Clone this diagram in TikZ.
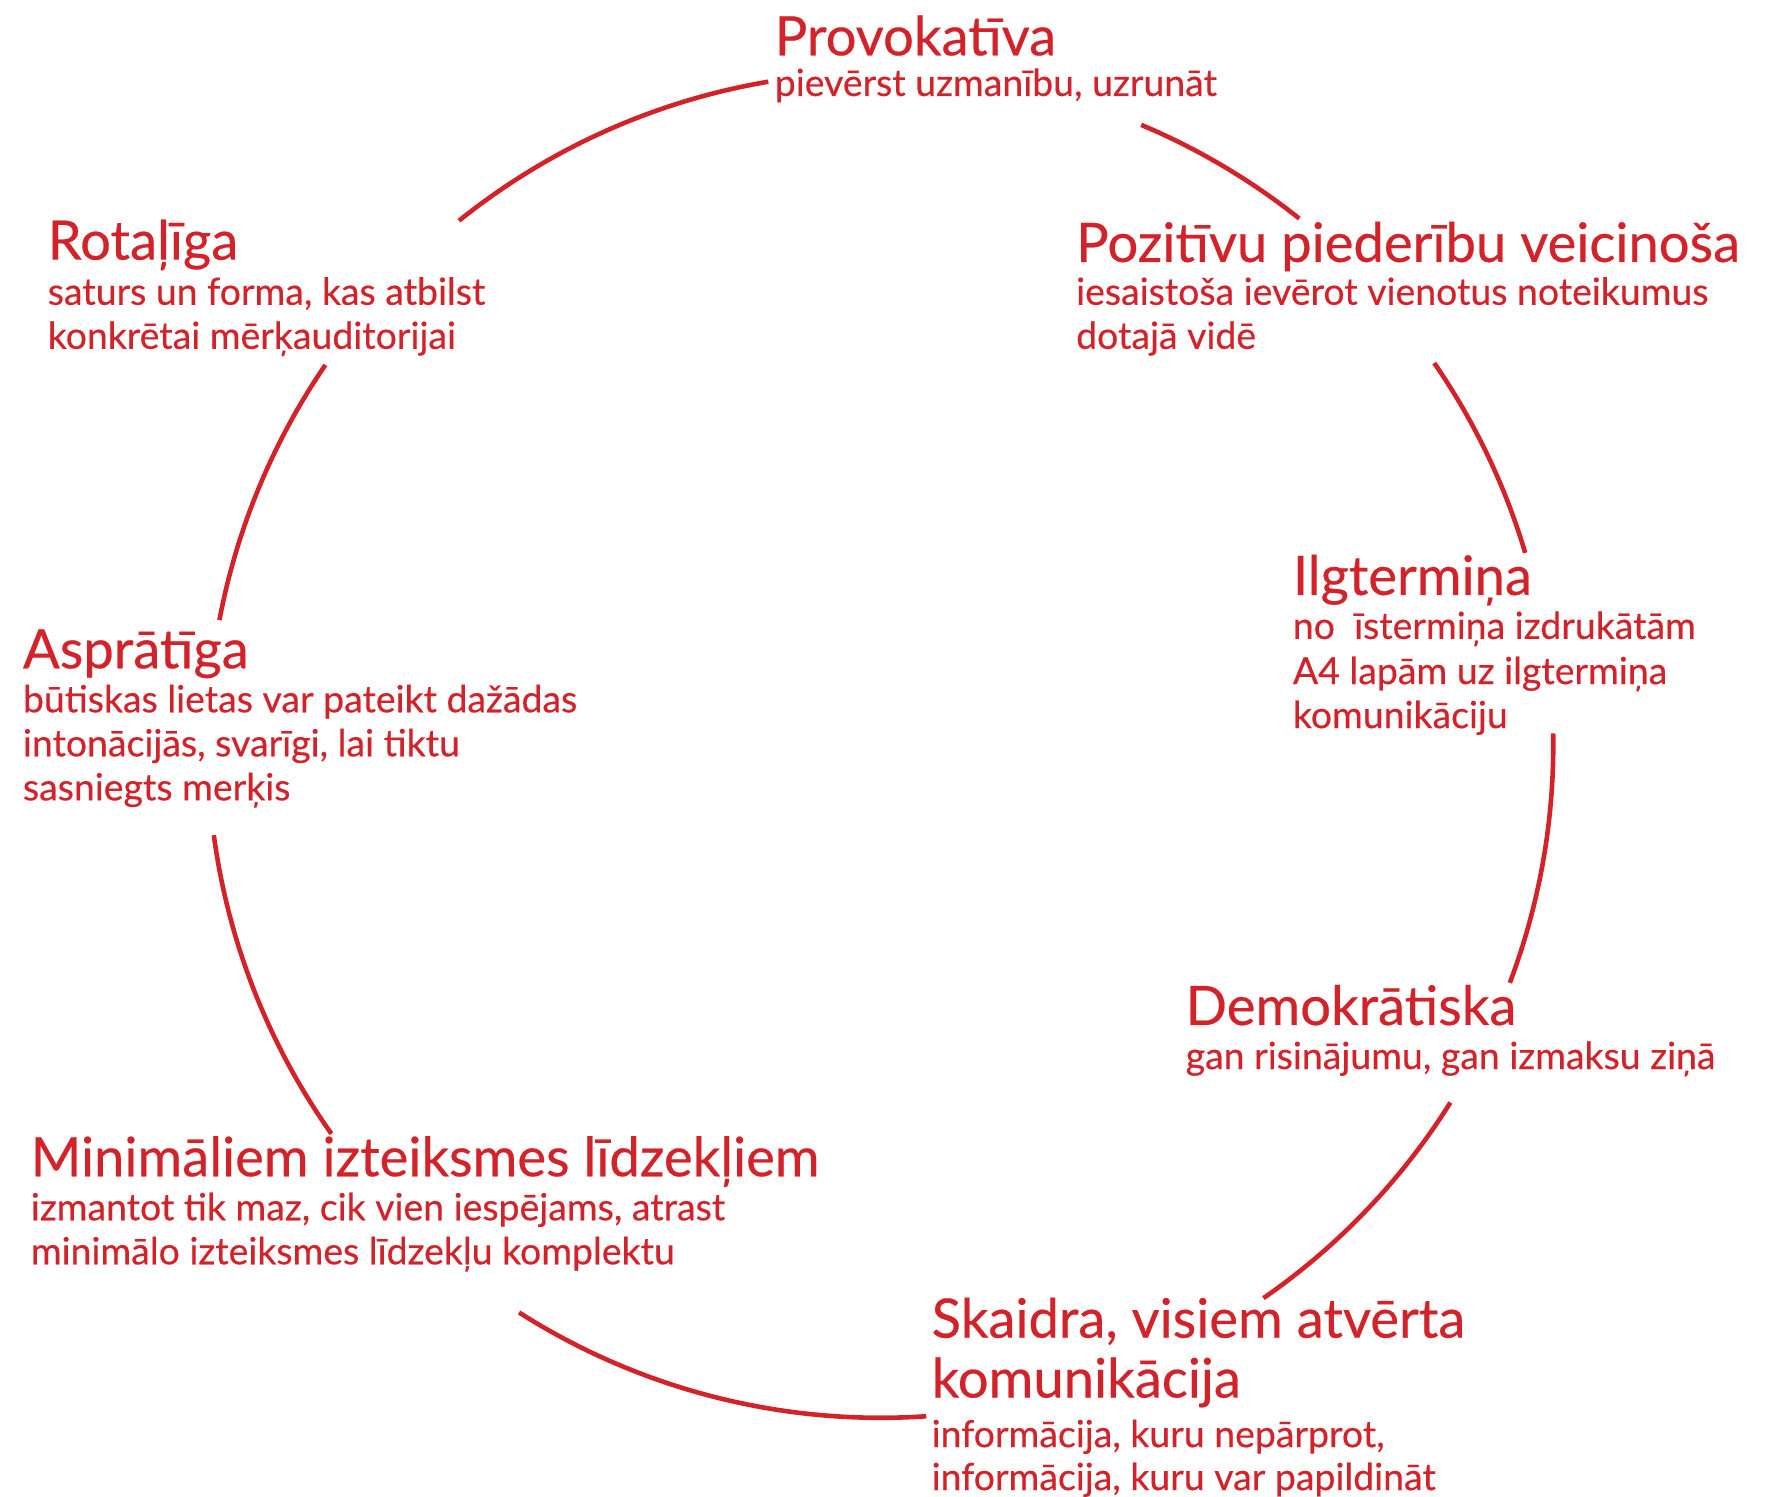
\documentclass[tikz,border=0pt]{standalone}
\usepackage{fontspec}
\setmainfont{Lato}[FakeBold=0.4]
\definecolor{accent}{HTML}{D2232A}
\begin{document}
\begin{tikzpicture}[x=0.5645pt,y=0.5645pt,
  ring/.style={draw=accent,line width=2.3pt},
  ttl/.style={anchor=base west,inner sep=0pt,text=accent,font=\fontsize{27.2}{31}\selectfont},
  sub/.style={anchor=base west,inner sep=0pt,text=accent,font=\fontsize{18.7}{22}\selectfont}]
\useasboundingbox (0,0) rectangle (1568,-1326);
\coordinate (C) at (780,-660);
\def\R{596}
% arcs
\draw[ring] (C) ++(99.6:\R) arc[start angle=99.6,end angle=128.8,radius=\R];
\draw[ring] (C) ++(51.5:\R) arc[start angle=51.5,end angle=67.2,radius=\R];
\draw[ring] (C) ++(16.6:\R) arc[start angle=16.6,end angle=34.6,radius=\R];
\draw[ring] (C) ++(-20.7:\R) arc[start angle=-20.7,end angle=1.0,radius=\R];
\draw[ring] (C) ++(-55.3:\R) arc[start angle=-55.3,end angle=-32.1,radius=\R];
\draw[ring] (C) ++(-122.5:\R) arc[start angle=-122.5,end angle=-86.1,radius=\R];
\draw[ring] (C) ++(187.7:\R) arc[start angle=187.7,end angle=215.3,radius=\R];
\draw[ring] (C) ++(145.6:\R) arc[start angle=145.6,end angle=169.3,radius=\R];
% labels
\node[ttl] (prov) at (686,-49) {Provokatīva};
\node[sub] (provs) at (686,-85) {pievērst uzmanību, uzrunāt};
\node[ttl] (poz) at (953,-232) {Pozitīvu piederību veicinoša};
\node[sub] (pozs1) at (953,-270) {iesaistoša ievērot vienotus noteikumus};
\node[sub] (pozs2) at (953,-309) {dotajā vidē};
\node[ttl] (rot) at (42,-230) {Rotaļīga};
\node[sub] (rots1) at (42,-270) {saturs un forma, kas atbilst};
\node[sub] (rots2) at (42,-309) {konkrētai mērķauditorijai};
\node[ttl] (ilg) at (1145,-527) {Ilgtermiņa};
\node[sub] (ilgs1) at (1145,-566) {no\ \ īstermiņa izdrukātām};
\node[sub] (ilgs2) at (1145,-606) {A4 lapām uz ilgtermiņa};
\node[sub] (ilgs3) at (1145,-645) {komunikāciju};
\node[ttl] (asp) at (20,-592) {Asprātīga};
\node[sub] (asps1) at (20,-631) {būtiskas lietas var pateikt dažādas};
\node[sub] (asps2) at (20,-670) {intonācijās, svarīgi, lai tiktu};
\node[sub] (asps3) at (20,-709) {sasniegts merķis};
\node[ttl] (dem) at (1050,-908) {Demokrātiska};
\node[sub] (dems) at (1050,-947) {gan risinājumu, gan izmaksu ziņā};
\node[ttl] (min) at (27,-1042) {Minimāliem izteiksmes līdzekļiem};
\node[sub] (mins1) at (27,-1081) {izmantot tik maz, cik vien iespējams, atrast};
\node[sub] (mins2) at (27,-1120) {minimālo izteiksmes līdzekļu komplektu};
\node[ttl] (ska1) at (825,-1185) {Skaidra, visiem atvērta};
\node[ttl] (ska2) at (825,-1238) {komunikācija};
\node[sub] (skas1) at (825,-1282) {informācija, kuru nepārprot,};
\node[sub] (skas2) at (825,-1320) {informācija, kuru var papildināt};
\end{tikzpicture}
\end{document}
